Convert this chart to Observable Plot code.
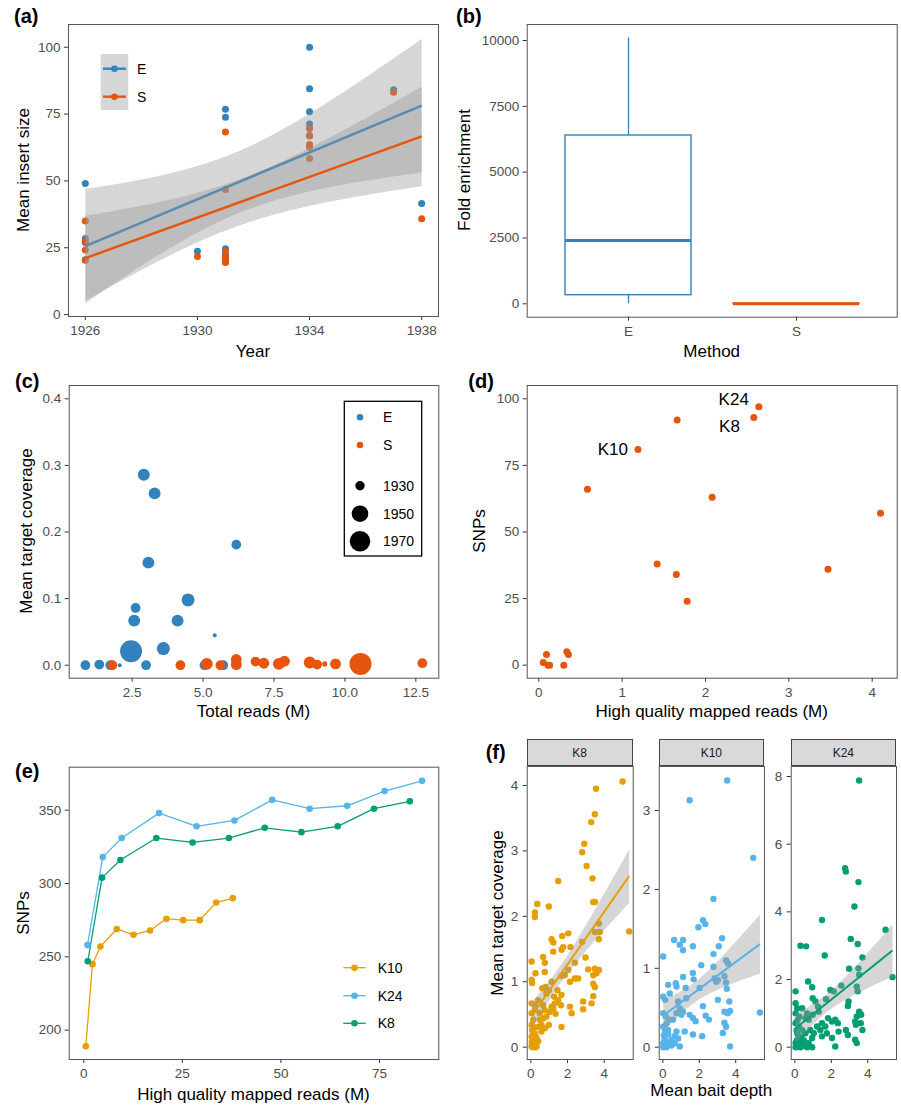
<!DOCTYPE html>
<html><head><meta charset="utf-8">
<script src="https://cdn.jsdelivr.net/npm/d3@7"></script>
<script src="https://cdn.jsdelivr.net/npm/@observablehq/plot@0.6"></script>
<style>
body{margin:0;background:#fff;}
#fig{position:relative;width:901px;height:1105px;background:#fff;font-family:'Liberation Sans',Arial,sans-serif;overflow:hidden}
.pan{position:absolute}
.pan svg{overflow:visible}
.lab{position:absolute;font-weight:bold;font-size:20px;color:#000;line-height:20px;white-space:nowrap}
.tt{position:absolute;font-size:17px;color:#000;white-space:nowrap;line-height:17px;transform:translate(-50%,-50%)}
.ty{position:absolute;font-size:17px;color:#000;white-space:nowrap;line-height:17px;transform:translate(-50%,-50%) rotate(-90deg)}
.strip{position:absolute;background:#d9d9d9;border:1px solid #444;box-sizing:border-box;font-size:12px;color:#1a1a1a;display:flex;align-items:center;justify-content:center}
.leg{position:absolute}
</style></head><body><div id="fig"></div>
<script>
// ---------------- DATA ----------------
// (a) mean insert size by year, paired samples, two methods
const yearsA  = [1926,1926,1926,1926,1930,1931,1931,1931,1931,1931,1931,1931,1934,1934,1934,1934,1934,1937,1938];
const insertE = [49,28.5,27,20.5,23.7,76.8,73.8,24.6,22.1,22,21,20,100,84.5,75.9,71.3,67,84.1,41.6];
const insertS = [35,27.4,24.2,20.3,21.7,68.3,46.8,23.6,21.1,20.5,19.8,19.5,69.6,66.8,63.6,62.6,58.4,83.2,35.9];

// (b) fold enrichment box summaries
const methods = ["E","S"];
const boxLo   = [0, 0];
const boxQ1   = [327, 0.5];
const boxMed  = [2405, 1.5];
const boxQ3   = [6392, 3];
const boxHi   = [10100, 6];

// (c) total reads vs mean target coverage
const cE_x    = [2.91,3.29,3.07,6.17,4.47,2.62,2.57,4.10,5.41,2.46,3.60,0.85,1.34,1.73,2.06,2.99,5.05,5.71];
const cE_y    = [0.286,0.258,0.154,0.181,0.098,0.086,0.067,0.067,0.045,0.021,0.025,0,0.001,0,0,0,0,0];
const cE_year = [1937,1937,1937,1931,1940,1931,1937,1937,1915,1977,1940,1931,1931,1931,1915,1931,1931,1931];
const cS_x    = [1.80,4.20,5.13,5.61,6.17,6.17,6.85,7.14,7.67,7.87,8.76,9.02,9.29,9.67,10.55,12.73];
const cS_y    = [0,0,0.002,0,0.0086,0.001,0.0055,0.003,0.002,0.006,0.004,0.001,0.002,0.002,0.002,0.003];
const cS_year = [1931,1931,1937,1931,1934,1934,1931,1934,1937,1934,1937,1931,1918,1934,1977,1931];
const sizeBreaks = [1930,1950,1970];

// (d) high quality mapped reads vs SNPs
const dX    = [2.64,2.58,1.66,1.19,0.584,2.08,4.10,1.42,3.47,1.65,1.78,0.053,0.092,0.11,0.13,0.30,0.336,0.356];
const dY    = [97,93,92,81,66,63,57,38,36,34,24,1,4,0,0,0,5,4];
const dName = ["K24","K8","","K10","","","","","","","","","","","","","",""];

// (e) rarefaction: reads (M) vs SNPs
const eSamples = ["K10","K24","K8"];
const eK10x = [0.51,2.2,4.22,8.36,12.6,16.8,20.95,25.2,29.4,33.6,37.8];
const eK10y = [189,245,257,269,265,268,276,275,275,287,290];
const eK24x = [0.93,4.81,9.63,19.1,28.6,38.2,47.8,57.3,66.8,76.3,85.8];
const eK24y = [258,318,331,348,339,343,357,351,353,363,370];
const eK8x  = [1.01,4.64,9.29,18.4,27.6,36.8,45.9,55.2,64.4,73.6,82.7];
const eK8y  = [247,304,316,331,328,331,338,335,339,351,356];

// (f) mean bait depth vs mean target coverage, [depth, coverage]
const fK8 = [[5.0,4.06],[3.55,3.95],[3.49,3.56],[3.29,3.44],[2.91,3.11],[2.8,2.98],[3.04,2.77],[3.36,2.58],[1.49,2.54],[3.4,2.22],[3.49,2.22],[0.35,2.19],[0.98,2.15],[0.22,2.06],[0.22,1.99],[5.36,1.77],[3.71,1.89],[3.49,1.76],[3.76,1.76],[3.71,1.65],[2.04,1.74],[1.71,1.70],[1.13,1.65],[1.22,1.60],[1.76,1.53],[2.16,1.53],[1.22,1.46],[1.67,1.49],[2.8,1.61],[2.4,1.29],[2.98,1.37],[0.04,1.31],[0.67,1.38],[0.76,1.29],[0.76,1.15],[0.25,1.13],[3.13,1.19],[3.49,1.20],[3.58,1.13],[3.71,1.18],[3.4,1.10],[1.67,1.09],[1.85,1.10],[2.04,1.18],[2.4,1.05],[2.58,1.05],[2.13,1.0],[0.04,1.03],[0.07,0.98],[1.13,1.0],[1.45,0.87],[0.62,0.90],[0.8,0.92],[0.85,0.82],[0.98,0.87],[3.4,0.97],[3.49,0.92],[3.4,0.78],[1.27,0.77],[0.4,0.72],[0.04,0.67],[2.85,0.70],[3.31,0.67],[1.64,0.64],[1.31,0.67],[1.13,0.62],[2.13,0.62],[2.22,0.52],[2.85,0.58],[0.67,0.64],[0.76,0.57],[0.49,0.52],[1.35,0.51],[0.04,0.52],[0.22,0.57],[0.13,0.42],[0.98,0.34],[0.58,0.34],[0.4,0.31],[1.67,0.31],[0.04,0.34],[0.07,0.26],[0.22,0.21],[0.04,0.16],[0.13,0.11],[0.22,0.06],[0.31,0.01],[0.04,0.01],[0.4,0.09],[0.67,0.44],[0.85,0.47],[0.49,0.42],[1.49,0.72],[1.67,0.80],[1.04,0.54],[1.22,0.59],[0.22,0.64],[0.58,0.24],[0.76,0.29],[0.1,0.05],[0.15,0.2],[0.3,0.15],[0.05,0.08],[0.2,0.3],[0.1,0.0],[0.25,0.0]];
const fK10 = [[3.53,3.38],[1.47,3.13],[4.96,2.40],[2.78,1.88],[2.2,1.61],[2.33,1.56],[1.95,1.52],[0.02,1.15],[0.62,1.36],[1.11,1.36],[0.93,1.30],[1.11,1.23],[1.65,1.28],[3.25,1.38],[3.07,1.28],[2.78,1.18],[3.47,1.10],[3.58,1.06],[2.11,1.04],[2.78,1.02],[1.65,0.94],[1.69,0.86],[1.11,0.89],[0.29,0.79],[0.71,0.81],[0.75,0.77],[1.25,0.75],[2.02,0.75],[2.84,0.87],[2.93,0.83],[3.02,0.85],[3.38,0.90],[3.47,0.82],[3.51,0.74],[0.02,0.64],[0.13,0.60],[0.38,0.68],[0.84,0.58],[1.29,0.62],[3.02,0.60],[3.65,0.58],[3.69,0.46],[3.56,0.43],[3.38,0.45],[2.2,0.52],[0.93,0.49],[1.11,0.45],[1.02,0.41],[0.75,0.43],[1.47,0.41],[1.65,0.37],[1.8,0.33],[2.35,0.40],[2.53,0.35],[3.38,0.31],[3.47,0.26],[3.29,0.18],[5.33,0.44],[0.02,0.43],[0.16,0.39],[0.38,0.35],[0.56,0.35],[1.2,0.20],[1.65,0.16],[2.16,0.14],[0.75,0.2],[0.84,0.11],[0.02,0.26],[0.13,0.2],[0.29,0.16],[0.47,0.09],[0.02,0.05],[0.2,0.02],[0.47,0.02],[0.65,0.05],[0.93,0.01],[0.02,0],[0.2,0],[3.69,0.01],[0.65,0.14],[0.2,0.3],[0.29,0.22],[0.1,0.1],[0.35,0.05],[0.05,0.15]];
const fK24 = [[3.53,7.88],[2.76,5.29],[2.8,5.19],[3.49,4.88],[3.27,4.16],[1.49,3.76],[4.98,3.47],[0.31,3.0],[0.62,2.98],[3.07,3.2],[3.45,3.05],[1.64,2.71],[3.71,2.65],[2.98,2.32],[3.49,2.33],[5.36,2.07],[3.53,2.14],[0.73,1.94],[0.95,1.77],[0.04,1.65],[2.55,1.82],[1.95,1.69],[2.13,1.65],[3.4,1.79],[3.45,1.65],[1.71,1.42],[0.98,1.45],[1.13,1.35],[2.95,1.35],[2.91,1.22],[0.04,1.3],[0.13,1.15],[0.04,1.0],[0.4,1.15],[0.67,1.0],[1.27,1.2],[1.31,1.05],[3.53,1.05],[3.64,0.96],[3.4,0.91],[0.98,0.96],[0.76,0.81],[0.58,0.86],[1.82,0.86],[2.04,0.76],[2.22,0.81],[2.36,0.71],[1.49,0.71],[1.67,0.61],[1.4,0.51],[3.31,0.76],[3.62,0.71],[3.71,0.51],[3.35,0.66],[2.8,0.51],[2.91,0.36],[0.04,0.71],[0.22,0.61],[0.4,0.51],[0.13,0.41],[0.36,0.31],[0.58,0.41],[0.85,0.51],[1.04,0.41],[1.22,0.61],[0.95,0.27],[2.04,0.27],[2.22,0.02],[3.31,0.22],[3.4,0.12],[0.04,0.12],[0.22,0.02],[0.49,0.04],[0.76,0.12],[0.95,0],[0.67,0],[0.04,0],[0.31,0],[1.49,0.32],[1.76,0.41],[2.4,0.46],[0.1,0.2],[0.2,0.3],[0.3,0.15],[0.5,0.2],[0.15,0.8],[0.25,0.9],[0.1,0.5]];

// ---------------- STYLE ----------------
const colE = "#3182bd", colS = "#e6550d";
const eColors = ["#E69F00","#56B4E9","#009E73"];           // K10, K24, K8 in (e)
const fColors = {K8:"#E69F00", K10:"#56B4E9", K24:"#009E73"}; // (f)
const FONT = "'Liberation Sans', Arial, sans-serif";
const TXT = "#4d4d4d";
const ST = {fontFamily: FONT, background: "transparent", overflow: "visible", color: TXT};
const plain = d => String(d);
const axX = (o) => Plot.axisX({tickSize: 4, tickPadding: 5, stroke: "#333", fill: TXT, fontSize: 13.5, label: null, tickFormat: plain, ...o});
const axY = (o) => Plot.axisY({tickSize: 4, tickPadding: 4, stroke: "#333", fill: TXT, fontSize: 13.5, label: null, tickFormat: plain, ...o});
const frame = () => Plot.frame({stroke: "#555", strokeWidth: 1});

const fig = document.getElementById("fig");
function place(el, left, top){ const d = document.createElement("div"); d.className = "pan"; d.style.left = left + "px"; d.style.top = top + "px"; d.appendChild(el); fig.appendChild(d); }
function html(s){ const d = document.createElement("div"); d.innerHTML = s; while (d.firstChild) fig.appendChild(d.firstChild); }
const label  = (t, x, y) => html(`<div class="lab" style="left:${x}px;top:${y}px">${t}</div>`);
const titleX = (t, x, y) => html(`<div class="tt" style="left:${x}px;top:${y}px">${t}</div>`);
const titleY = (t, x, y) => html(`<div class="ty" style="left:${x}px;top:${y}px">${t}</div>`);

// ---------------- (a) ----------------
const aE = yearsA.map((yr, i) => ({year: yr, size: insertE[i]}));
const aS = yearsA.map((yr, i) => ({year: yr, size: insertS[i]}));
const reg = {x: "year", y: "size", strokeWidth: 2.4, strokeLinecap: "butt", fill: "#999999", fillOpacity: 0.4};
place(Plot.plot({
  width: 450, height: 362, marginLeft: 68, marginTop: 24, marginRight: 12, marginBottom: 46, style: ST,
  x: {domain: [1925.4, 1938.6]}, y: {domain: [-0.7, 108.5]},
  marks: [
    Plot.dot(aE, {x: "year", y: "size", fill: colE, r: 3.5}),
    Plot.dot(aS, {x: "year", y: "size", fill: colS, r: 3.5}),
    Plot.linearRegressionY(aE, {...reg, stroke: colE}),
    Plot.linearRegressionY(aS, {...reg, stroke: colS}),
    axX({ticks: [1926, 1930, 1934, 1938]}),
    axY({ticks: [0, 25, 50, 75, 100]}),
    frame()
  ]
}), 0, 0);
html(`<svg class="leg" style="left:0;top:0" width="200" height="130">
  <rect x="100.7" y="54" width="27.6" height="56" fill="#d6d6d6"/>
  <line x1="103" x2="126" y1="68.7" y2="68.7" stroke="${colE}" stroke-width="2.4"/><circle cx="114.5" cy="68.7" r="3.3" fill="${colE}"/>
  <line x1="103" x2="126" y1="96.7" y2="96.7" stroke="${colS}" stroke-width="2.4"/><circle cx="114.5" cy="96.7" r="3.3" fill="${colS}"/>
  <text x="137" y="68.7" dy="0.35em" font-size="14" font-family="${FONT}">E</text>
  <text x="137" y="96.7" dy="0.35em" font-size="14" font-family="${FONT}">S</text></svg>`);
label("(a)", 14, 5.6);
titleY("Mean insert size", 23, 170);
titleX("Year", 253, 351);

// ---------------- (b) ----------------
const boxes = methods.map((m, i) => ({m, lo: boxLo[i], q1: boxQ1[i], med: boxMed[i], q3: boxQ3[i], hi: boxHi[i]}));
place(Plot.plot({
  width: 450, height: 362, marginLeft: 76.7, marginTop: 24, marginRight: 3.3, marginBottom: 45.3, style: ST,
  x: {type: "band", domain: methods, paddingInner: 0.25, paddingOuter: 0.225},
  y: {domain: [-509, 10608]},
  color: {domain: methods, range: [colE, colS]},
  marks: [
    Plot.ruleX(boxes, {x: "m", y1: "lo", y2: "q1", stroke: "m", strokeWidth: 1.3}),
    Plot.ruleX(boxes, {x: "m", y1: "q3", y2: "hi", stroke: "m", strokeWidth: 1.3}),
    Plot.barY(boxes, {x: "m", y1: "q1", y2: "q3", fill: "none", stroke: "m", strokeWidth: 1.4}),
    Plot.tickY(boxes, {x: "m", y: "med", stroke: "m", strokeWidth: 2.8}),
    axX({ticks: methods}),
    axY({ticks: [0, 2500, 5000, 7500, 10000]}),
    frame()
  ]
}), 450, 0);
label("(b)", 456, 5.6);
titleY("Fold enrichment", 464, 170.3);
titleX("Method", 711.7, 351);

// ---------------- (c) ----------------
const cE = cE_x.map((x, i) => ({reads: x, cov: cE_y[i], year: cE_year[i]}));
const cS = cS_x.map((x, i) => ({reads: x, cov: cS_y[i], year: cS_year[i]}));
const rScale = {type: "linear", domain: [1930, 1950, 1970], range: [4.7, 8.3, 10.3]};
const plotC = Plot.plot({
  width: 450, height: 362, marginLeft: 68.7, marginTop: 25, marginRight: 11.7, marginBottom: 44.3, style: ST,
  x: {domain: [0.279, 13.31]}, y: {domain: [-0.0195, 0.42]},
  r: rScale,
  marks: [
    Plot.dot(cE, {x: "reads", y: "cov", r: "year", fill: colE, sort: null}),
    Plot.dot(cS, {x: "reads", y: "cov", r: "year", fill: colS, sort: null}),
    axX({ticks: [2.5, 5, 7.5, 10, 12.5], tickFormat: d3.format(".1f")}),
    axY({ticks: [0, 0.1, 0.2, 0.3, 0.4], tickFormat: d3.format(".1f")}),
    frame()
  ]
});
place(plotC, 0, 360);
let rFn;
try { const s = plotC.scale("r"); rFn = s.apply ? (v => s.apply(v)) : Plot.scale({r: rScale}).apply; } catch (e) { rFn = d3.scaleLinear(rScale.domain, rScale.range); }
const legRows = [485.7, 513.7, 541.3];
html(`<svg class="leg" style="left:0;top:0" width="450" height="720">
  <rect x="344.3" y="401.3" width="77.4" height="154.7" fill="white" stroke="#000" stroke-width="1.3"/>
  <circle cx="360" cy="417.3" r="3.3" fill="${colE}"/><text x="383" y="417.3" dy="0.35em" font-size="14" font-family="${FONT}">E</text>
  <circle cx="360" cy="445" r="3.3" fill="${colS}"/><text x="383" y="445" dy="0.35em" font-size="14" font-family="${FONT}">S</text>
  ${sizeBreaks.map((b, i) => `<circle cx="360" cy="${legRows[i]}" r="${rFn(b)}" fill="#000"/><text x="383" y="${legRows[i]}" dy="0.35em" font-size="14" font-family="${FONT}">${b}</text>`).join("")}
  </svg>`);
label("(c)", 15, 370.7);
titleY("Mean target coverage", 25.7, 531);
titleX("Total reads (M)", 253.5, 711);

// ---------------- (d) ----------------
const dData = dX.map((x, i) => ({reads: x, snps: dY[i], name: dName[i]}));
const dOffsets = {K24: [-10, -7], K8: [-14, 9], K10: [-10, 0]};
place(Plot.plot({
  width: 450, height: 362, marginLeft: 76.7, marginTop: 25, marginRight: 3.3, marginBottom: 44.3, style: ST,
  x: {domain: [-0.139, 4.3]}, y: {domain: [-4.9, 105]},
  marks: [
    Plot.dot(dData, {x: "reads", y: "snps", fill: colS, r: 3.5}),
    ...Object.entries(dOffsets).map(([nm, [dx, dy]]) =>
      Plot.text(dData.filter(d => d.name === nm), {x: "reads", y: "snps", text: "name", textAnchor: "end", dx, dy, fontSize: 17, fill: "#000"})),
    axX({ticks: [0, 1, 2, 3, 4]}),
    axY({ticks: [0, 25, 50, 75, 100]}),
    frame()
  ]
}), 450, 360);
label("(d)", 468.3, 371);
titleY("SNPs", 479, 531);
titleX("High quality mapped reads (M)", 711.7, 711);

// ---------------- (e) ----------------
const eData = [
  ...eK10x.map((x, i) => ({reads: x, snps: eK10y[i], s: "K10"})),
  ...eK24x.map((x, i) => ({reads: x, snps: eK24y[i], s: "K24"})),
  ...eK8x.map((x, i) => ({reads: x, snps: eK8y[i], s: "K8"}))
];
place(Plot.plot({
  width: 450, height: 375, marginLeft: 68.7, marginTop: 36.7, marginRight: 11.7, marginBottom: 46, style: ST,
  x: {domain: [-3.7, 90.05]}, y: {domain: [180, 379.3]},
  color: {domain: eSamples, range: eColors},
  marks: [
    Plot.line(eData, {x: "reads", y: "snps", z: "s", stroke: "s", strokeWidth: 1.3}),
    Plot.dot(eData, {x: "reads", y: "snps", fill: "s", r: 3.3}),
    axX({ticks: [0, 25, 50, 75]}),
    axY({ticks: [200, 250, 300, 350]}),
    frame()
  ]
}), 0, 730);
const eRows = [967.7, 995.7, 1023.3];
html(`<svg class="leg" style="left:0;top:0" width="450" height="1105">
  ${eSamples.map((s, i) => `<line x1="343.3" x2="365.7" y1="${eRows[i]}" y2="${eRows[i]}" stroke="${eColors[i]}" stroke-width="1.3"/><circle cx="354.5" cy="${eRows[i]}" r="3.3" fill="${eColors[i]}"/><text x="377.7" y="${eRows[i]}" dy="0.35em" font-size="14" font-family="${FONT}">${s}</text>`).join("")}
  </svg>`);
label("(e)", 15, 761);
titleY("SNPs", 22.5, 913);
titleX("High quality mapped reads (M)", 253.5, 1094);

// ---------------- (f) ----------------
function facet(points, color, yDomain, yTicks, width, mL, mR) {
  const data = points.map(([x, y]) => ({depth: x, cov: y}));
  return Plot.plot({
    width, height: 375, marginLeft: mL, marginTop: 36, marginRight: mR, marginBottom: 46, style: ST,
    x: {domain: [-0.2, 5.58]}, y: {domain: yDomain},
    marks: [
      Plot.dot(data, {x: "depth", y: "cov", fill: color, r: 3.2}),
      Plot.linearRegressionY(data, {x: "depth", y: "cov", stroke: color, strokeWidth: 2, strokeLinecap: "butt", fill: "#999999", fillOpacity: 0.4}),
      axX({ticks: [0, 2, 4]}),
      axY({ticks: yTicks, tickPadding: 5}),
      frame()
    ]
  });
}
place(facet(fK8, fColors.K8, [-0.188, 4.29], [0, 1, 2, 3, 4], 185, 76.7, 2.3), 450, 730);
place(facet(fK10, fColors.K10, [-0.156, 3.558], [0, 1, 2, 3], 126, 18.7, 2), 640, 730);
place(facet(fK24, fColors.K24, [-0.364, 8.296], [0, 2, 4, 6, 8], 128, 18.7, 4), 772, 730);
html(`<div class="strip" style="left:526.7px;top:739.3px;width:106px;height:27.2px">K8</div>
<div class="strip" style="left:658.7px;top:739.3px;width:105.3px;height:27.2px">K10</div>
<div class="strip" style="left:790.7px;top:739.3px;width:105.3px;height:27.2px">K24</div>`);
label("(f)", 485.7, 742);
titleY("Mean target coverage", 497, 912.5);
titleX("Mean bait depth", 711.3, 1090);
</script></body></html>
